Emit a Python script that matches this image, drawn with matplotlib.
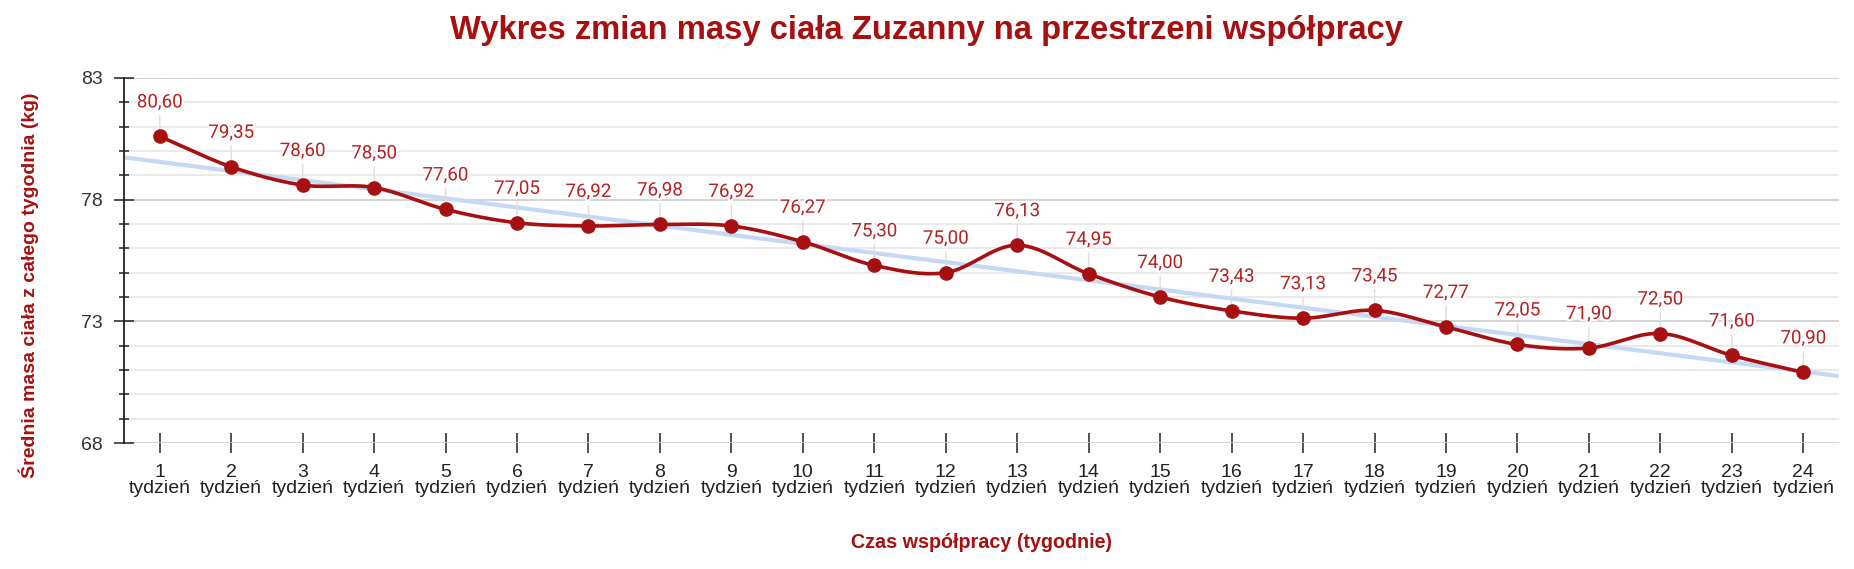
import numpy as np
import matplotlib
matplotlib.use("Agg")
import matplotlib.pyplot as plt
import matplotlib.patheffects as pe
from matplotlib.ticker import MultipleLocator

weeks = list(range(1, 25))
week_labels = [f"{w}\ntydzień" for w in weeks]
weights = [80.60, 79.35, 78.60, 78.50, 77.60, 77.05, 76.92, 76.98, 76.92, 76.27,
           75.30, 75.00, 76.13, 74.95, 74.00, 73.43, 73.13, 73.45, 72.77, 72.05,
           71.90, 72.50, 71.60, 70.90]
y_ticks = [68, 73, 78, 83]

title = "Wykres zmian masy ciała Zuzanny na przestrzeni współpracy"
xlabel = "Czas współpracy (tygodnie)"
ylabel = "Średnia masa ciała z całego tygodnia (kg)"

RED = "#A61010"
LABEL_RED = "#B52020"

W, H = 1854, 569
fig = plt.figure(figsize=(W / 100, H / 100), dpi=100)
left, right, top, bottom = 124, 1839, 78, 443
ax = fig.add_axes([left / W, 1 - bottom / H, (right - left) / W, (bottom - top) / H])

x = np.array(weeks, dtype=float)
y = np.array(weights, dtype=float)

# smooth curve (Catmull-Rom through the data points)
def catmull_rom(xs, ys, n=30):
    px = np.concatenate([[2 * xs[0] - xs[1]], xs, [2 * xs[-1] - xs[-2]]])
    py = np.concatenate([[2 * ys[0] - ys[1]], ys, [2 * ys[-1] - ys[-2]]])
    outx, outy = [], []
    for i in range(1, len(px) - 2):
        t = np.linspace(0, 1, n, endpoint=False)
        p0x, p1x, p2x, p3x = px[i - 1:i + 3]
        p0y, p1y, p2y, p3y = py[i - 1:i + 3]
        c1x = p1x + (p2x - p0x) / 6
        c1y = p1y + (p2y - p0y) / 6
        c2x = p2x - (p3x - p1x) / 6
        c2y = p2y - (p3y - p1y) / 6
        b = lambda a, c, d, e: ((1 - t) ** 3) * a + 3 * ((1 - t) ** 2) * t * c + 3 * (1 - t) * t ** 2 * d + t ** 3 * e
        outx.append(b(p1x, c1x, c2x, p2x))
        outy.append(b(p1y, c1y, c2y, p2y))
    outx.append([xs[-1]])
    outy.append([ys[-1]])
    return np.concatenate(outx), np.concatenate(outy)

sx, sy = catmull_rom(x, y)

# trend line (linear fit)
coef = np.polyfit(x, y, 1)
tx = np.array([0.5, 24.5])
ax.plot(tx, np.polyval(coef, tx), color="#C5D8F6", lw=3, zorder=2, solid_capstyle="butt")

ax.plot(sx, sy, color=RED, lw=2.6, zorder=3)
ax.plot(x, y, "o", color=RED, ms=9.5, zorder=4)

for xi, yi in zip(x, y):
    ax.annotate(f"{yi:.2f}".replace(".", ","), xy=(xi, yi), xytext=(0, 29),
                textcoords="offset pixels", ha="center", va="baseline",
                fontsize=13.5, family=["Roboto", "DejaVu Sans"], color=LABEL_RED,
                path_effects=[pe.withStroke(linewidth=3, foreground="white")],
                arrowprops=dict(arrowstyle="-", color="#DDDDDD", lw=1,
                                shrinkA=1, shrinkB=0),
                zorder=2.5)

ax.set_xlim(0.5, 24.5)
ax.set_ylim(68, 83)
ax.set_yticks(y_ticks)
ax.yaxis.set_minor_locator(MultipleLocator(1))
ax.set_xticks(weeks)
ax.set_xticklabels(week_labels, linespacing=0.9)

ax.grid(axis="y", which="major", color="#CCCCCC", lw=1.2, zorder=0)
ax.grid(axis="y", which="minor", color="#E6E6E6", lw=1.2, zorder=0)
ax.grid(axis="x", visible=False)
ax.set_axisbelow(True)

for s in ["top", "right", "bottom"]:
    ax.spines[s].set_visible(False)
ax.spines["left"].set_color("#222222")
ax.spines["left"].set_linewidth(1.3)

ax.tick_params(axis="y", which="major", direction="inout", length=14, width=1.1,
               color="#222222", labelsize=14, labelcolor="#333333", pad=8)
ax.tick_params(axis="y", which="minor", direction="inout", length=6.5, width=1.1,
               color="#222222")
ax.tick_params(axis="x", which="major", direction="inout", length=14, width=1.1,
               color="#222222", labelsize=14, labelcolor="#222222", pad=8)
for lab in ax.get_xticklabels() + ax.get_yticklabels():
    lab.set_family(["Liberation Sans", "DejaVu Sans"])

fig.text(0.5, 1 - 30 / H, title, ha="center", va="center", fontsize=23.6,
         fontweight="bold", color=RED, family=["Liberation Sans", "DejaVu Sans"])
fig.text((left + right) / 2 / W, 1 - 542 / H, xlabel, ha="center", va="center",
         fontsize=14.2, fontweight="bold", color=RED, family=["Liberation Sans", "DejaVu Sans"])
fig.text(29 / W, 1 - 285 / H, ylabel, ha="center", va="center", rotation=90,
         fontsize=14, fontweight="bold", color=RED, family=["Liberation Sans", "DejaVu Sans"])

fig.savefig("out.png", dpi=100)
